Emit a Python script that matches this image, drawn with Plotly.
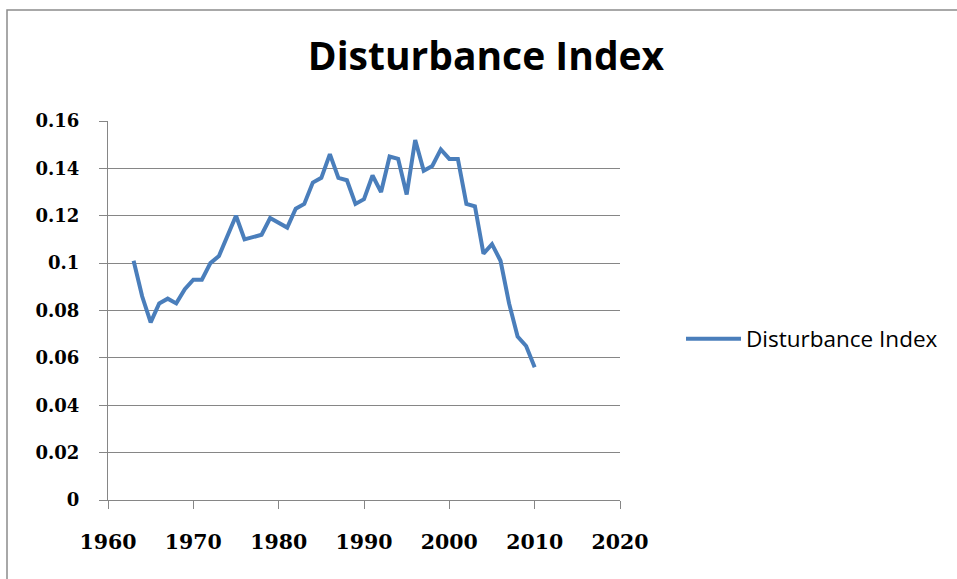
import plotly.graph_objects as go

# Disturbance index by year
years = [1963, 1964, 1965, 1966, 1967, 1968, 1969, 1970, 1971, 1972,
         1973, 1974, 1975, 1976, 1977, 1978, 1979, 1980, 1981, 1982,
         1983, 1984, 1985, 1986, 1987, 1988, 1989, 1990, 1991, 1992,
         1993, 1994, 1995, 1996, 1997, 1998, 1999, 2000, 2001, 2002,
         2003, 2004, 2005, 2006, 2007, 2008, 2009, 2010]
disturbance = [0.101, 0.086, 0.075, 0.083, 0.085, 0.083, 0.089, 0.093, 0.093, 0.100,
               0.103, 0.112, 0.120, 0.110, 0.111, 0.112, 0.119, 0.117, 0.115, 0.123,
               0.125, 0.134, 0.136, 0.146, 0.136, 0.135, 0.125, 0.127, 0.137, 0.130,
               0.145, 0.144, 0.129, 0.152, 0.139, 0.141, 0.148, 0.144, 0.144, 0.125,
               0.124, 0.104, 0.108, 0.101, 0.083, 0.069, 0.065, 0.056]

x_ticks = [1960, 1970, 1980, 1990, 2000, 2010, 2020]
y_ticks = [0, 0.02, 0.04, 0.06, 0.08, 0.1, 0.12, 0.14, 0.16]
y_tick_labels = ["0", "0.02", "0.04", "0.06", "0.08", "0.1", "0.12", "0.14", "0.16"]

W, H = 957, 579
L, R, T, B = 108, 337, 121, 79
plot_w = W - L - R
plot_h = H - T - B

grid_col = "#868686"

fig = go.Figure()
fig.add_trace(go.Scatter(
    x=years, y=disturbance, mode="lines", name="Disturbance Index",
    line=dict(color="#4A7EBB", width=4),
))

fig.update_layout(
    width=W, height=H,
    margin=dict(l=L, r=R, t=T, b=B, pad=0),
    paper_bgcolor="white", plot_bgcolor="white",
    title=dict(
        text="Disturbance Index", x=486 / W, xanchor="center",
        y=1 - 56 / H, yanchor="middle", xref="container", yref="container",
        font=dict(family="Open Sans", size=39, color="#000000", weight="bold"),
    ),
    showlegend=True,
    legend=dict(
        x=(681 - L) / plot_w, xanchor="left", y=(H - B - 339) / plot_h, yanchor="middle",
        font=dict(family="Open Sans", size=22.5, color="#000000"),
        itemwidth=55, bgcolor="rgba(0,0,0,0)",
    ),
    xaxis=dict(
        range=[1960, 2020], tickvals=x_ticks, ticks="outside", ticklen=8,
        tickcolor=grid_col, showline=True, linecolor=grid_col, linewidth=1,
        showgrid=False, zeroline=False, ticklabelstandoff=15,
        tickfont=dict(family="DejaVu Serif", size=20.5, color="#000000", weight="bold"),
    ),
    yaxis=dict(
        range=[0, 0.16], tickvals=y_ticks, ticktext=y_tick_labels, ticks="outside",
        ticklen=8, tickcolor=grid_col, showline=True, linecolor=grid_col, linewidth=1,
        showgrid=True, gridcolor=grid_col, gridwidth=1, zeroline=False,
        ticklabelstandoff=16,
        tickfont=dict(family="DejaVu Serif", size=18, color="#000000", weight="bold"),
    ),
    shapes=[dict(
        type="rect", xref="paper", yref="paper", layer="below",
        x0=(7 - L) / plot_w, x1=(W + 20 - L) / plot_w,
        y0=(H - B - (H + 20)) / plot_h, y1=(H - B - 10) / plot_h,
        line=dict(color="#8C8C8C", width=1.5), fillcolor="rgba(0,0,0,0)",
    )],
)

fig.write_html("out.html")
